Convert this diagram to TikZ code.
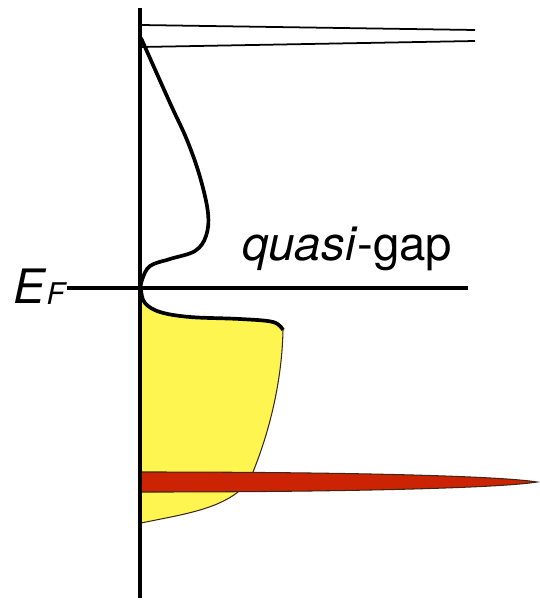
\documentclass[tikz,border=0pt]{standalone}
\usepackage{fontspec}
\setmainfont{TeX Gyre Heros}
\usetikzlibrary{calc}
\definecolor{colAxis}{RGB}{0,0,0}
\definecolor{colBand}{RGB}{255,245,80}
\definecolor{colPeak}{RGB}{205,35,5}
\definecolor{colEdge}{RGB}{60,40,20}
\tikzset{
  axisLine/.style={
    line width=2.5pt, color=colAxis
  },
  levelLine/.style={
    line width=1.8pt, color=colAxis
  },
  dosCurve/.style={
    line width=2.1pt, color=colAxis, line join=round
  },
  thinLevel/.style={
    line width=1.0pt, color=colAxis
  },
  bandFill/.style={
    fill=colBand, draw=none
  },
  edgeLine/.style={
    line width=0.6pt, color=colEdge
  },
  peakFill/.style={
    fill=colPeak, draw=colEdge, line width=0.6pt
  },
  bigLabel/.style={
    font=\fontsize{27}{31}\selectfont, inner sep=0pt
  }
}

\begin{document}
\begin{tikzpicture}[x=0.02cm, y=-0.02cm]

  \useasboundingbox (0,0) rectangle (539,605);

  % axis and Fermi level
  \coordinate (axTop) at (140,8);
  \coordinate (axBot) at (140,598);
  \coordinate (efLeft) at (67,288);
  \coordinate (efRight) at (468,288);
  \node[bigLabel, anchor=base west] (ef) at (13,303) {\textit{E}\raisebox{-0.03em}{\fontsize{17}{19}\selectfont\textit{F}}};
  \node[bigLabel, anchor=base west] (gap) at (242,260) {\textit{quasi}-gap};

  % occupied band (yellow)
  \fill[bandFill] (141,290) plot[smooth, tension=0.6] coordinates {(141,290) (145,303) (160,312) (190,317) (240,319) (273,322) (283,330)}
    .. controls (282,380) and (270,430) .. (253,472)
    -- (238,492) .. controls (215,510) and (180,515) .. (141,523) -- cycle;
  \draw[edgeLine] (283,330) .. controls (282,380) and (270,430) .. (253,472)
    -- (238,492) .. controls (215,510) and (180,515) .. (141,523);

  % sharp peak (red)
  \filldraw[peakFill] (141,472) .. controls (350,472) and (500,476) .. (537,482)
    .. controls (500,488) and (350,492) .. (141,492) -- cycle;

  % empty levels at the top
  \draw[thinLevel] (141,25) -- (475,30);
  \draw[thinLevel] (141,47) -- (475,41);

  % axes
  \draw[axisLine] (axTop) -- (axBot);
  \draw[levelLine] (efLeft) -- (efRight);

  % density of states
  \draw[dosCurve] plot[smooth, tension=0.6] coordinates {(141,38) (170,103) (187,140) (200,177) (208,213) (206,236) (195,251) (170,259) (150,266) (142,280) (141,290) (145,303) (160,312) (190,317) (240,319) (273,322) (283,330)};

\end{tikzpicture}
\end{document}
